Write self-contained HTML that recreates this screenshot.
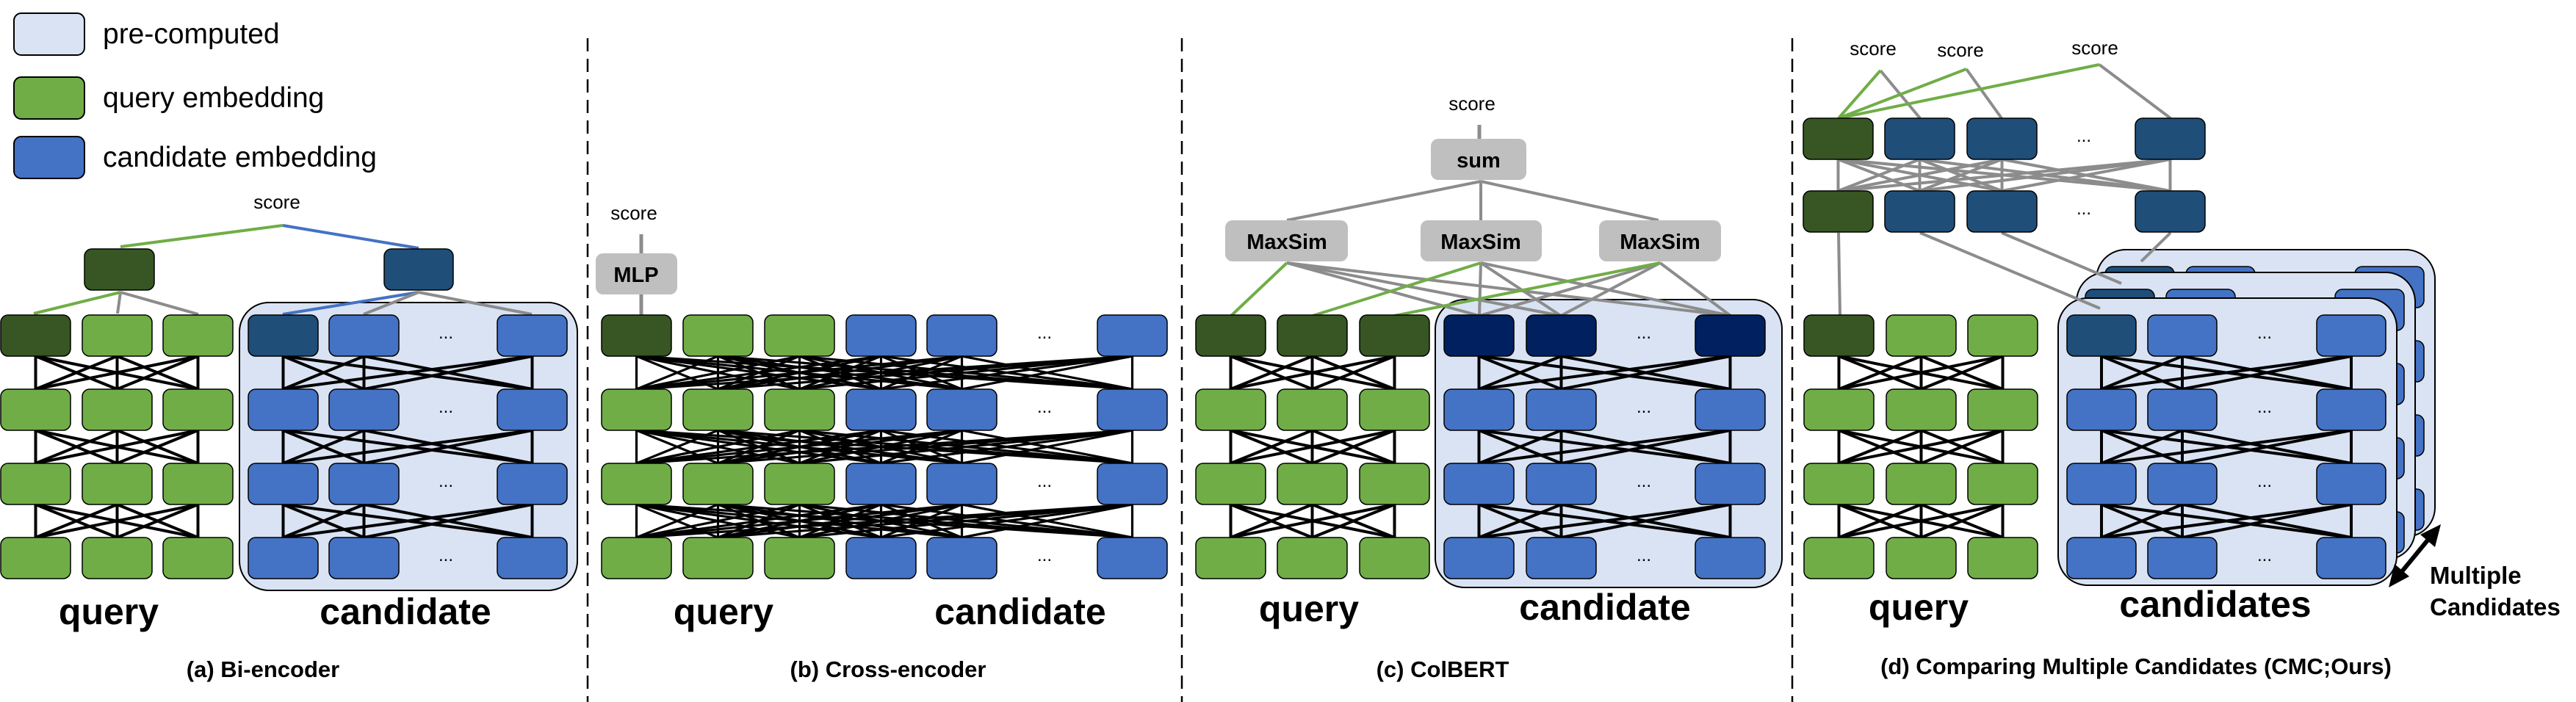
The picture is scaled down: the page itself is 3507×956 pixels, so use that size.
<!DOCTYPE html>
<html><head><meta charset="utf-8">
<style>
html,body{margin:0;padding:0;background:#fff;}
svg{display:block;}
text{font-family:"Liberation Sans",sans-serif;}
.b{font-weight:bold;}
</style></head>
<body>
<svg id="s" width="3507" height="956" viewBox="0 0 3507 956" xmlns="http://www.w3.org/2000/svg">
<g id="shapes"></g>
<g id="txt" fill="#000">
  <text x="140" y="59" font-size="39">pre-computed</text>
  <text x="140" y="146" font-size="39">query embedding</text>
  <text x="140" y="227" font-size="39">candidate embedding</text>
  <text x="377" y="284" font-size="26" text-anchor="middle">score</text>
  <text x="148" y="850" font-size="50" class="b" text-anchor="middle">query</text>
  <text x="552" y="850" font-size="50" class="b" text-anchor="middle">candidate</text>
  <text x="358" y="922" font-size="31" class="b" text-anchor="middle">(a) Bi-encoder</text>
  <text x="863" y="299" font-size="26" text-anchor="middle">score</text>
  <text x="866" y="384" font-size="29" class="b" text-anchor="middle">MLP</text>
  <text x="985" y="850" font-size="50" class="b" text-anchor="middle">query</text>
  <text x="1389" y="850" font-size="50" class="b" text-anchor="middle">candidate</text>
  <text x="1209" y="922" font-size="31" class="b" text-anchor="middle">(b) Cross-encoder</text>
  <text x="2004" y="150" font-size="26" text-anchor="middle">score</text>
  <text x="2013" y="228" font-size="29" class="b" text-anchor="middle">sum</text>
  <text x="1752" y="339" font-size="29" class="b" text-anchor="middle">MaxSim</text>
  <text x="2016" y="339" font-size="29" class="b" text-anchor="middle">MaxSim</text>
  <text x="2260" y="339" font-size="29" class="b" text-anchor="middle">MaxSim</text>
  <text x="1782" y="846" font-size="50" class="b" text-anchor="middle">query</text>
  <text x="2185" y="844" font-size="50" class="b" text-anchor="middle">candidate</text>
  <text x="1964" y="922" font-size="31" class="b" text-anchor="middle">(c) ColBERT</text>
  <text x="2550" y="75" font-size="26" text-anchor="middle">score</text>
  <text x="2669" y="77" font-size="26" text-anchor="middle">score</text>
  <text x="2852" y="74" font-size="26" text-anchor="middle">score</text>
  <text x="2612" y="844" font-size="50" class="b" text-anchor="middle">query</text>
  <text x="3016" y="840" font-size="50" class="b" text-anchor="middle">candidates</text>
  <text x="3308" y="795" font-size="33" class="b">Multiple</text>
  <text x="3308" y="838" font-size="33" class="b">Candidates</text>
  <text x="2908" y="918" font-size="31" class="b" text-anchor="middle">(d) Comparing Multiple Candidates (CMC;Ours)</text>
</g>
<g id="dots" fill="#000"></g>
</svg>
<script>
(function(){
var NS="http://www.w3.org/2000/svg";
var g=document.getElementById("shapes");
function el(n,a){var e=document.createElementNS(NS,n);for(var k in a)e.setAttribute(k,a[k]);g.appendChild(e);return e;}
function rect(x,y,w,h,fill,rx,sw){el("rect",{x:x,y:y,width:w,height:h,rx:rx||10,fill:fill,stroke:"#000","stroke-width":sw==null?1.5:sw});}
function line(x1,y1,x2,y2,c,w){el("line",{x1:x1,y1:y1,x2:x2,y2:y2,stroke:c,"stroke-width":w||4});}
function dots(x,y){var t=document.createElementNS(NS,"text");t.setAttribute("x",x);t.setAttribute("y",y);t.setAttribute("font-size","24");t.setAttribute("text-anchor","middle");t.setAttribute("font-family","Liberation Sans, sans-serif");t.textContent="...";document.getElementById("dots").appendChild(t);}
var G="#70ad47",DG="#375623",B="#4472c4",DB="#1f4e79",NV="#002060",BG="#dae3f3",GR="#bfbfbf",LG="#8c8c8c";
var rows=[429,530,631,732],H=56;
function dashed(x){el("line",{x1:x,y1:52,x2:x,y2:956,stroke:"#000","stroke-width":2.5,"stroke-dasharray":"18,10"});}
dashed(800);dashed(1609);dashed(2440);
rect(19,18,96,57,BG,10,2);rect(19,105,96,57,G,10,2);rect(19,186,96,57,B,10,2);
function grid(xs,w,colorFn,dx,lw){
  var cx=xs.map(function(x){return x+w/2;});
  for(var r=0;r<3;r++){
    for(var i=0;i<cx.length;i++)for(var j=0;j<cx.length;j++){
      line(cx[i],rows[r]+H,cx[j],rows[r+1],"#000",lw||4);
    }
  }
  for(var r=0;r<4;r++){
    for(var i=0;i<xs.length;i++)rect(xs[i],rows[r],w,H,colorFn(r,i));
    if(dx!=null)dots(dx,rows[r]+H/2+4);
  }
  return cx;
}
rect(326,412,460,392,BG,40,2);
line(385,307,164,336,G,4);line(385,307,570,338,B,4);
line(164,398,46,427,G,4);line(164,398,160,427,LG,4);line(164,398,270,428,LG,4);
line(570,398,385,428,B,4);line(570,398,495,428,LG,4);line(570,398,724,428,LG,4);
rect(115,339,95,56,DG);rect(523,339,94,56,DB);
grid([1,112,222],95,function(r,i){return r==0&&i==0?DG:G;},null);
grid([338,448,677],95,function(r,i){return r==0&&i==0?DB:B;},607);
line(873,319,873,346,LG,5);line(873,401,873,430,LG,5);
rect(811,345,111,56,GR,10,0);
grid([819,930,1041,1152,1262,1494],95,function(r,i){if(r==0&&i==0)return DG;return i<3?G:B;},1422,3.2);
rect(1954,408,472,392,BG,40,2);
line(2014,170,2014,189,LG,5);
line(2016,247,1752,300,LG,4);line(2016,247,2016,300,LG,4);line(2016,247,2258,300,LG,4);
var ms=[1752,2016,2260],qc=[1676,1787,1898],cc=[2014,2125,2356];
for(var m=0;m<3;m++){for(var k=0;k<3;k++)line(ms[m],358,cc[k],430,LG,4);}
for(var m=0;m<3;m++)line(ms[m],358,qc[m],430,G,4);
rect(1948,189,130,56,GR,10,0);
rect(1668,300,167,56,GR,10,0);rect(1934,300,165,56,GR,10,0);rect(2177,300,166,56,GR,10,0);
grid([1628,1739,1851],95,function(r,i){return r==0?DG:G;},null);
grid([1966,2078,2308],95,function(r,i){return r==0?NV:B;},2238);
var layers=[[52,-66],[25,-35],[0,0]];
layers.forEach(function(o){
  var ox=o[0],oy=o[1];
  el("rect",{x:2802+ox,y:406+oy,width:461,height:391,rx:40,fill:BG,stroke:"#000","stroke-width":2});
  var xs=[2814+ox,2924+ox,3154+ox],w=94;
  var cx=xs.map(function(x){return x+w/2;});
  for(var r=0;r<3;r++)for(var i=0;i<3;i++)for(var j=0;j<3;j++)line(cx[i],rows[r]+H+oy,cx[j],rows[r+1]+oy,"#000",4);
  for(var r=0;r<4;r++){for(var i=0;i<3;i++)rect(xs[i],rows[r]+oy,w,H,(r==0&&i==0)?DB:B);}
  if(ox==0)for(var r=0;r<4;r++)dots(3083,rows[r]+H/2+4);
});
var ux=[2455,2566,2678,2907],uw=95,ucx=ux.map(function(x){return x+uw/2;});
for(var i=0;i<4;i++)for(var j=0;j<4;j++)line(ucx[i],217,ucx[j],260,LG,4);
line(2560,96,2614,161,LG,4);line(2677,94,2725,161,LG,4);line(2858,88,2955,161,LG,4);
line(2560,96,2503,161,G,4);line(2677,94,2503,161,G,4);line(2858,88,2503,161,G,4);
line(2503,317,2505,429,LG,4);
line(2614,317,2859,420,LG,4);line(2725,317,2888,386,LG,4);line(2955,317,2915,356,LG,4);
for(var r=0;r<2;r++){var y=r==0?161:260;for(var i=0;i<4;i++)rect(ux[i],y,uw,56,i==0?DG:DB);dots(2837,y+32);}
grid([2456,2568,2679],95,function(r,i){return r==0&&i==0?DG:G;},null);
line(3262,788,3313,726,"#000",6);
el("polygon",{points:"3252,800 3260,768 3280,785",fill:"#000"});
el("polygon",{points:"3323,714 3295,728 3315,745",fill:"#000"});
})();
</script>
</body></html>
